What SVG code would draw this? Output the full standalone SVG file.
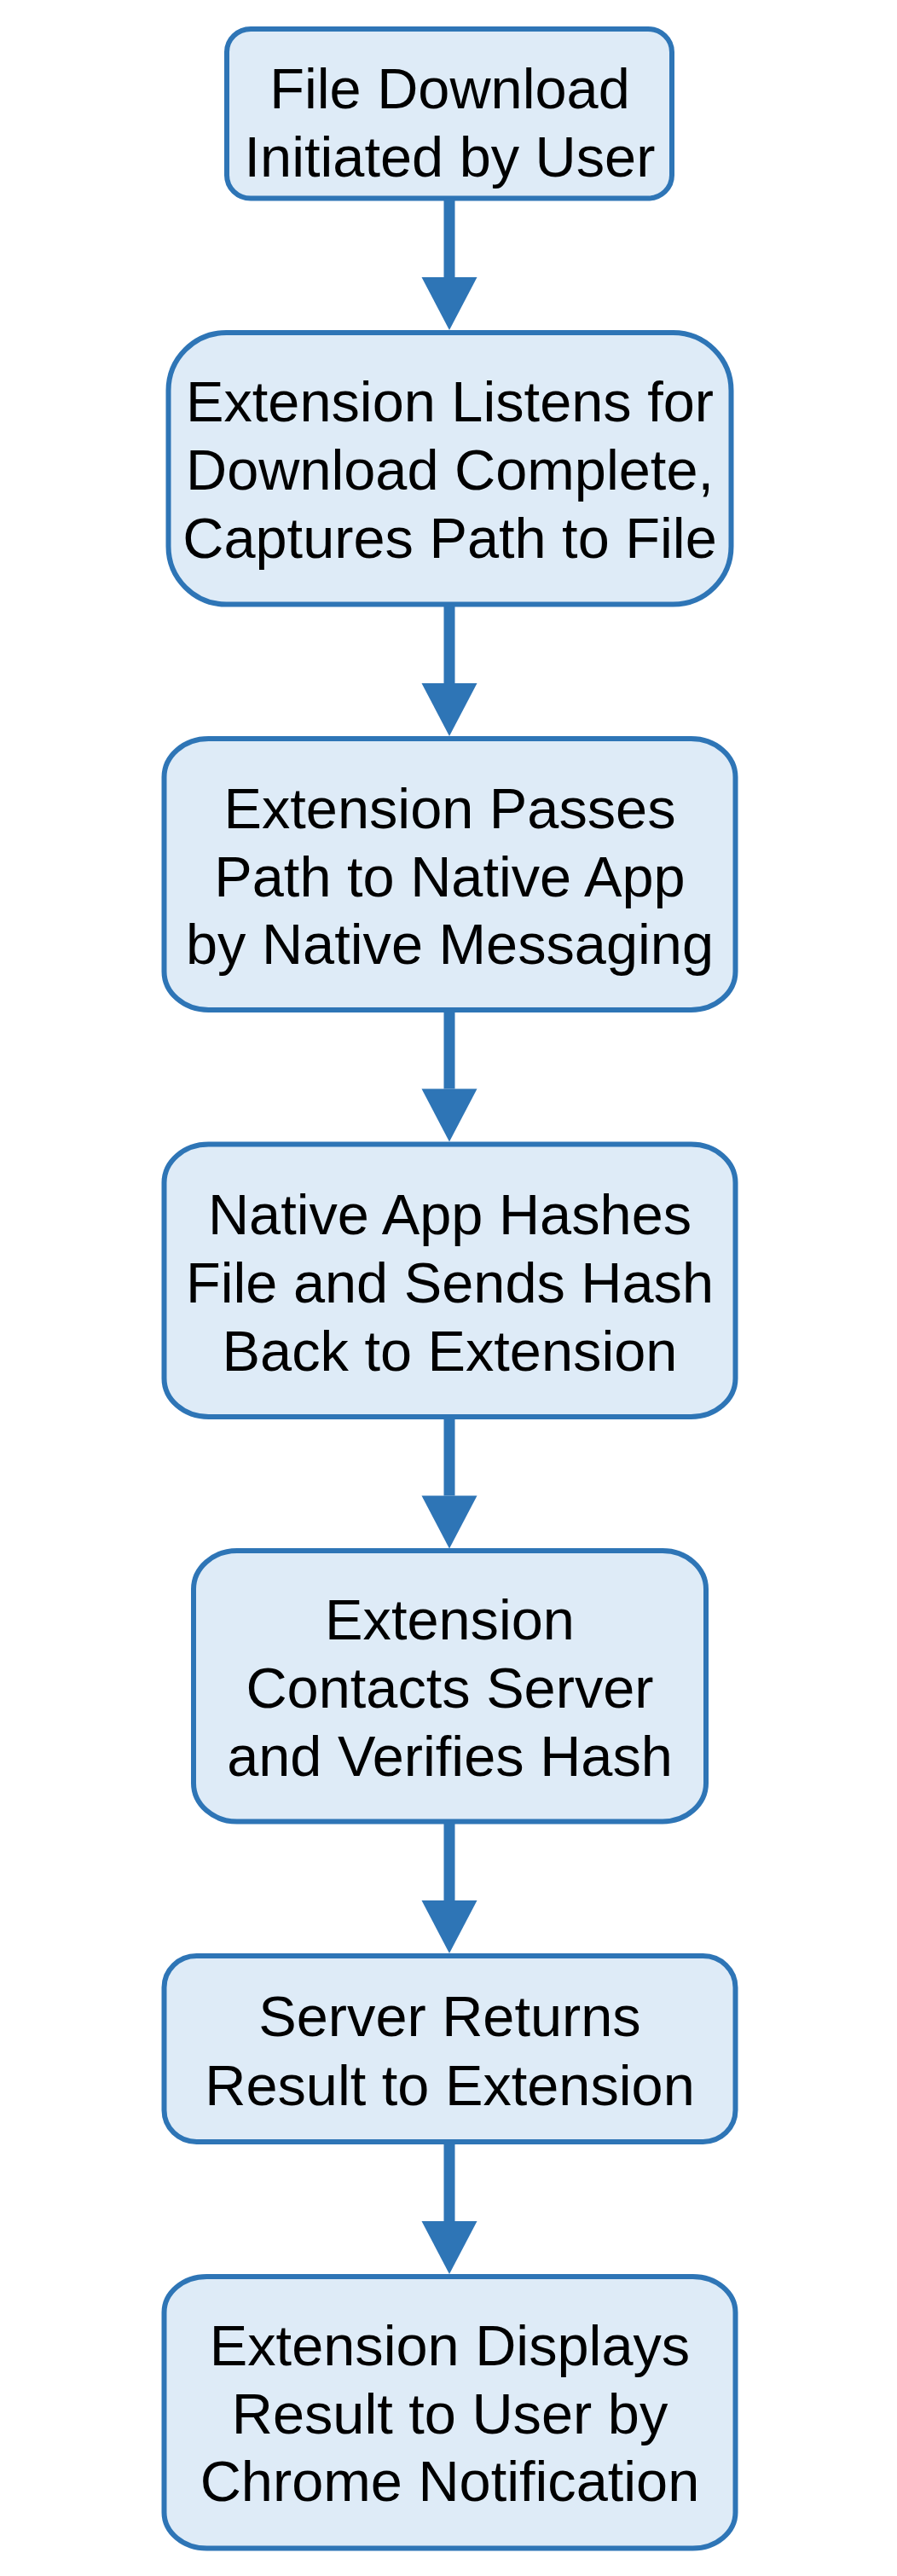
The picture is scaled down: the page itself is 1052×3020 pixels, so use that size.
<svg xmlns="http://www.w3.org/2000/svg" width="1052" height="3020" viewBox="0 0 1052 3020">
  <style>
    .box { fill: #DEEBF7; stroke: #2E75B6; stroke-width: 6; }
    .lbl { font-family: "Liberation Sans", Arial, sans-serif; font-size: 66.7px; fill: #000000; text-anchor: middle; }
    .conn { stroke: #2E75B6; stroke-width: 13; fill: none; marker-end: url(#arrow); }
  </style>
  <defs>
    <marker id="arrow" markerUnits="userSpaceOnUse" markerWidth="64" markerHeight="66" refX="0" refY="32.5" orient="auto" overflow="visible">
      <path d="M0,0 L62,32.5 L0,65 Z" fill="#2E75B6"/>
    </marker>
  </defs>
  <rect width="1052" height="3020" fill="#FFFFFF"/>

  <g id="node1">
    <rect class="box" x="266" y="34" width="522" height="198.5" rx="28" ry="27"/>
    <text class="lbl" x="527.5" y="126.7">File Download</text>
    <text class="lbl" x="527.5" y="206.7">Initiated by User</text>
  </g>
  <g id="node2">
    <rect class="box" x="197.5" y="390" width="660" height="318.5" rx="68" ry="68"/>
    <text class="lbl" x="527.5" y="494.3">Extension Listens for</text>
    <text class="lbl" x="527.5" y="574.3">Download Complete,</text>
    <text class="lbl" x="527.5" y="654.3">Captures Path to File</text>
  </g>
  <g id="node3">
    <rect class="box" x="192.5" y="866" width="670" height="318" rx="52" ry="45"/>
    <text class="lbl" x="527.5" y="971">Extension Passes</text>
    <text class="lbl" x="527.5" y="1050.7">Path to Native App</text>
    <text class="lbl" x="527.5" y="1130">by Native Messaging</text>
  </g>
  <g id="node4">
    <rect class="box" x="192.5" y="1341.5" width="670" height="319.5" rx="52" ry="45"/>
    <text class="lbl" x="527.5" y="1447">Native App Hashes</text>
    <text class="lbl" x="527.5" y="1527">File and Sends Hash</text>
    <text class="lbl" x="527.5" y="1607">Back to Extension</text>
  </g>
  <g id="node5">
    <rect class="box" x="227" y="1818" width="601" height="317.5" rx="51" ry="45"/>
    <text class="lbl" x="527.5" y="1922.3">Extension</text>
    <text class="lbl" x="527.5" y="2002">Contacts Server</text>
    <text class="lbl" x="527.5" y="2082">and Verifies Hash</text>
  </g>
  <g id="node6">
    <rect class="box" x="192.5" y="2293" width="670" height="218" rx="38" ry="37"/>
    <text class="lbl" x="527.5" y="2387.3">Server Returns</text>
    <text class="lbl" x="527.5" y="2467.7">Result to Extension</text>
  </g>
  <g id="node7">
    <rect class="box" x="192.5" y="2669" width="670" height="318.5" rx="50" ry="42"/>
    <text class="lbl" x="527.5" y="2772.7">Extension Displays</text>
    <text class="lbl" x="527.5" y="2852.7">Result to User by</text>
    <text class="lbl" x="527.5" y="2931.7">Chrome Notification</text>
  </g>

  <g id="connectors">
    <line class="conn" x1="527" y1="232.5" x2="527" y2="325"/>
    <line class="conn" x1="527" y1="708.5" x2="527" y2="801"/>
    <line class="conn" x1="527" y1="1184" x2="527" y2="1276.5"/>
    <line class="conn" x1="527" y1="1661" x2="527" y2="1753.5"/>
    <line class="conn" x1="527" y1="2135.5" x2="527" y2="2228"/>
    <line class="conn" x1="527" y1="2511" x2="527" y2="2604"/>
  </g>
</svg>
